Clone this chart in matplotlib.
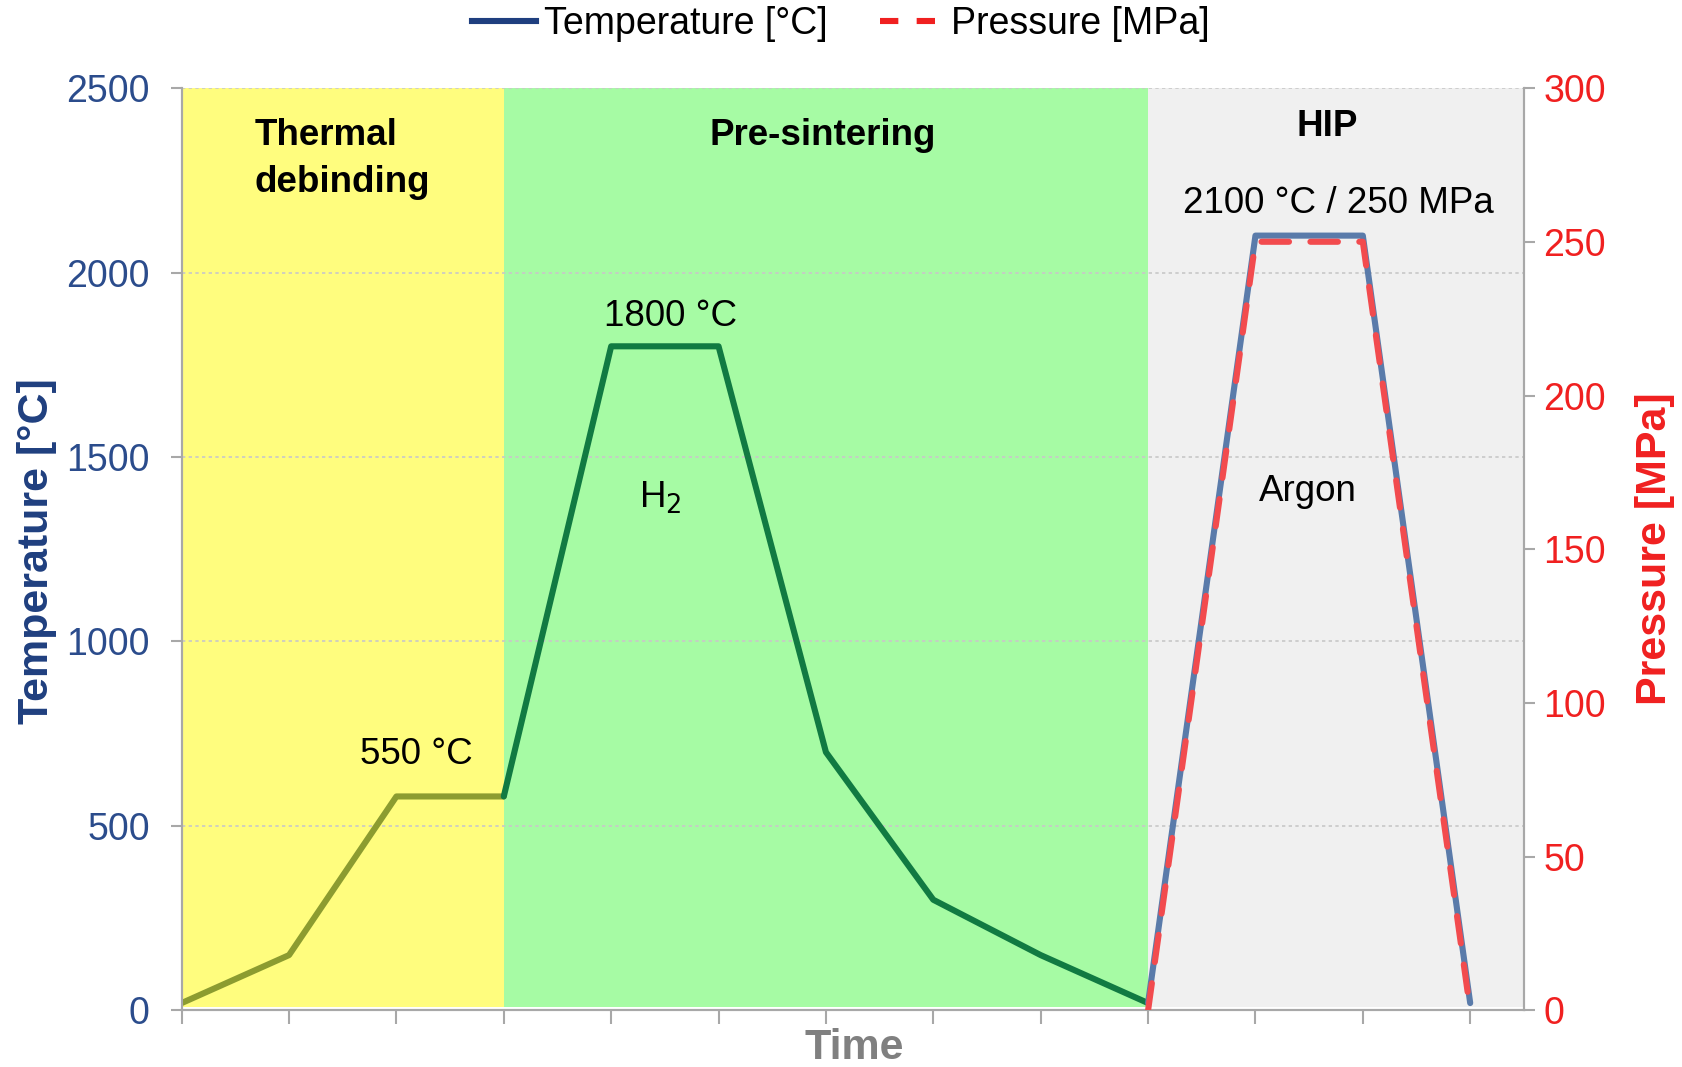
import matplotlib
matplotlib.use('Agg')
import numpy as np
import matplotlib.pyplot as plt
from matplotlib.lines import Line2D

plt.rcParams['font.family'] = ['Liberation Sans', 'DejaVu Sans']

# time steps (category positions on the x axis)
steps = list(range(13))
temperature = [20, 150, 580, 580, 1800, 1800, 700, 300, 150, 20, 2100, 2100, 20]
pressure = [None] * 9 + [0, 250, 250, 0]

# stages: band limits, band colours, and line colour seen through each band
stage_bounds = [0, 3, 9, 12.5]
stage_fill = ['#FFFD7E', '#A6FBA4', '#F0F0F0']
stage_line = ['#8C9C30', '#117A42', '#5A7BAA']

temp_blue = '#1F3F7F'
tick_blue = '#2B4C8C'
red = '#F02020'
spine_grey = '#A8A8A8'


def plot_profile():
    fig = plt.figure(figsize=(16.82, 10.67), dpi=100)
    ax = fig.add_axes([0.108, 0.053, 0.798, 0.8645])
    ax2 = ax.twinx()

    for i in range(3):
        ax.axvspan(stage_bounds[i], stage_bounds[i + 1], ymin=0.004, ymax=1,
                   color=stage_fill[i], lw=0, zorder=0)

    # temperature, coloured per stage
    cuts = [0, 3, 9, 12]
    for i in range(3):
        a, b = cuts[i], cuts[i + 1]
        ax.plot(steps[a:b + 1], temperature[a:b + 1], color=stage_line[i],
                lw=4.4, solid_joinstyle='round', solid_capstyle='round', zorder=3)

    p_x = [s for s, p in zip(steps, pressure) if p is not None]
    p_y = [p for p in pressure if p is not None]
    ax2.plot(p_x, p_y, color='#F24B4E', lw=4.4, ls=(0, (4.5, 3.5)),
             dash_capstyle='round', zorder=4)

    ax.set_xlim(0, 12.5)
    ax.set_ylim(0, 2500)
    ax2.set_ylim(0, 300)

    ax.set_yticks(np.arange(0, 2501, 500))
    ax2.set_yticks(np.arange(0, 301, 50))
    ax.set_xticks(steps)
    ax.set_xticklabels([])

    ax.yaxis.grid(True, ls=(0, (2, 2)), color='#C8C8C8', lw=1.2)
    ax.set_axisbelow('line')

    ax.tick_params(axis='y', colors=spine_grey, labelcolor=tick_blue,
                   labelsize=27, length=8, width=1.5, pad=15)
    ax.tick_params(axis='x', colors=spine_grey, length=10, width=1.5)
    ax2.tick_params(axis='y', colors=spine_grey, labelcolor=red,
                    labelsize=27, length=8, width=1.5, pad=6)

    for a in (ax, ax2):
        a.spines['top'].set_visible(False)
        for s in ('left', 'right', 'bottom'):
            a.spines[s].set_color(spine_grey)
            a.spines[s].set_linewidth(1.5)

    # stage labels and annotations
    fs = 26.5
    ax.text(0.68, 2370, 'Thermal', fontsize=fs, fontweight='bold', va='center')
    ax.text(0.68, 2245, 'debinding', fontsize=fs, fontweight='bold', va='center')
    ax.text(5.97, 2370, 'Pre-sintering', fontsize=fs, fontweight='bold',
            ha='center', va='center')
    ax.text(10.67, 2395, 'HIP', fontsize=fs, fontweight='bold',
            ha='center', va='center')
    ax.text(10.77, 2186, '2100 °C / 250 MPa', fontsize=fs, ha='center', va='center')
    ax.text(4.55, 1881, '1800 °C', fontsize=fs, ha='center', va='center')
    ax.text(4.46, 1390, 'H$_2$', fontsize=fs, ha='center', va='center')
    ax.text(10.49, 1407, 'Argon', fontsize=fs, ha='center', va='center')
    ax.text(2.19, 695, '550 °C', fontsize=fs, ha='center', va='center')

    fig.text(0.022, 0.4836, 'Temperature [°C]', rotation=90, fontsize=31,
             fontweight='bold', color=temp_blue, ha='center', va='center')
    fig.text(0.984, 0.486, 'Pressure [MPa]', rotation=90, fontsize=31,
             fontweight='bold', color=red, ha='center', va='center')
    fig.text(0.508, 0.018, 'Time', fontsize=31, fontweight='bold',
             color='#808080', ha='center', va='center')

    handles = [Line2D([], [], color=temp_blue, lw=4.4),
               Line2D([], [], color=red, lw=4.4, ls=(0, (3, 3)))]
    fig.legend(handles, ['Temperature [°C]', 'Pressure [MPa]'], ncol=2,
               loc='center', bbox_to_anchor=(0.5, 0.9775), frameon=False,
               fontsize=27, handlelength=1.7, handletextpad=0.2,
               columnspacing=1.4)

    fig.savefig('out.png', dpi=100)


if __name__ == '__main__':
    plot_profile()
